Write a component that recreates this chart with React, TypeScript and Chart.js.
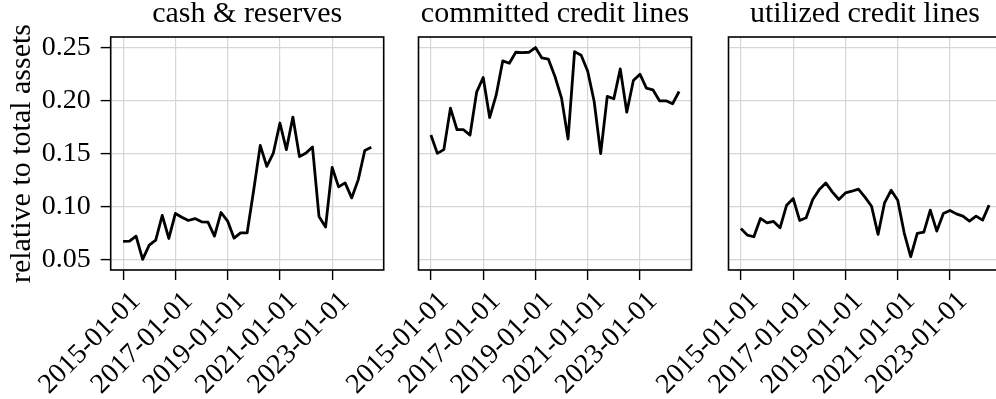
import React, { useEffect, useRef } from "react";
import { Chart, registerables } from "chart.js";
Chart.register(...registerables);

const DATES = [
  "2015-01-01", "2015-04-01", "2015-07-01", "2015-10-01",
  "2016-01-01", "2016-04-01", "2016-07-01", "2016-10-01",
  "2017-01-01", "2017-04-01", "2017-07-01", "2017-10-01",
  "2018-01-01", "2018-04-01", "2018-07-01", "2018-10-01",
  "2019-01-01", "2019-04-01", "2019-07-01", "2019-10-01",
  "2020-01-01", "2020-04-01", "2020-07-01", "2020-10-01",
  "2021-01-01", "2021-04-01", "2021-07-01", "2021-10-01",
  "2022-01-01", "2022-04-01", "2022-07-01", "2022-10-01",
  "2023-01-01", "2023-04-01", "2023-07-01", "2023-10-01",
  "2024-01-01", "2024-04-01", "2024-07-01",
];

const CASH_RESERVES = [
  0.0675, 0.0678, 0.0725, 0.0506, 0.064, 0.0688, 0.092, 0.0703,
  0.0938, 0.0903, 0.0872, 0.089, 0.0859, 0.0856, 0.0725, 0.0947,
  0.0866, 0.0706, 0.0756, 0.0756, 0.116, 0.1578, 0.138, 0.1506,
  0.1788, 0.1538, 0.1844, 0.1472, 0.1506, 0.1563, 0.091, 0.081,
  0.137, 0.1188, 0.1225, 0.1084, 0.1256, 0.153, 0.156,
];

const COMMITTED_LINES = [
  0.1675, 0.1503, 0.1538, 0.1928, 0.1725, 0.1725, 0.1675, 0.2078,
  0.2216, 0.184, 0.205, 0.2372, 0.235, 0.2453, 0.245, 0.2453,
  0.2497, 0.24, 0.2388, 0.2225, 0.2022, 0.1638, 0.2459, 0.2425,
  0.2275, 0.199, 0.15, 0.2038, 0.2016, 0.2297, 0.189, 0.2188,
  0.2247, 0.2116, 0.21, 0.1997, 0.1997, 0.1969, 0.2084,
];

const UTILIZED_LINES = [
  0.0797, 0.0734, 0.0719, 0.0891, 0.085, 0.0863, 0.0803, 0.1016,
  0.1078, 0.0872, 0.0897, 0.1069, 0.1163, 0.1225, 0.1141, 0.1069,
  0.1131, 0.1147, 0.1166, 0.1091, 0.1006, 0.0741, 0.1038, 0.1156,
  0.1063, 0.0756, 0.0531, 0.075, 0.0763, 0.0969, 0.0772, 0.0938,
  0.0966, 0.0934, 0.0913, 0.0866, 0.0913, 0.0875, 0.1016,
];

const PANEL_TITLES = ["cash & reserves", "committed credit lines", "utilized credit lines"];
const X_TICK_LABELS = ["2015-01-01", "2017-01-01", "2019-01-01", "2021-01-01", "2023-01-01"];
const Y_TICKS = [0.05, 0.1, 0.15, 0.2, 0.25];
const Y_LABEL = "relative to total assets";

const SERIES = [CASH_RESERVES, COMMITTED_LINES, UTILIZED_LINES];

const W = 1010;
const H = 399;
const PANEL_LEFT = [110.7, 418.5, 728.5];
const PANEL_W = 273;
const PLOT_TOP = 37;
const PLOT_BOTTOM = 270;
const FONT = "'Liberation Serif', 'Times New Roman', serif";
const GRID = "#d6d6d6";

const toDays = (s: string) => Date.parse(s + "T00:00:00Z") / 86400000;

const xs = DATES.map(toDays);
const xLo = Math.min(...xs);
const xHi = Math.max(...xs);
const X_MIN = xLo - 0.05 * (xHi - xLo);
const X_MAX = xHi + 0.05 * (xHi - xLo);
const allY = SERIES.flat();
const yLo = Math.min(...allY);
const yHi = Math.max(...allY);
const Y_MIN = yLo - 0.05 * (yHi - yLo);
const Y_MAX = yHi + 0.05 * (yHi - yLo);

const framePlugin = {
  id: "frame",
  afterDraw(chart: any) {
    const { ctx, chartArea: a } = chart;
    ctx.save();
    ctx.strokeStyle = "#000";
    ctx.lineWidth = 1.6;
    ctx.strokeRect(a.left, a.top, a.right - a.left, a.bottom - a.top);
    ctx.restore();
  },
};

function Panel({ k }: { k: number }) {
  const ref = useRef<HTMLCanvasElement | null>(null);
  useEffect(() => {
    if (!ref.current) return;
    const left = PANEL_LEFT[k];
    const chart = new Chart(ref.current, {
      type: "line",
      data: {
        datasets: [
          {
            data: xs.map((x, i) => ({ x, y: SERIES[k][i] })),
            borderColor: "#000",
            borderWidth: 2.8,
            pointRadius: 0,
            tension: 0,
            borderJoinStyle: "round",
            borderCapStyle: "butt",
            fill: false,
          },
        ],
      },
      plugins: [framePlugin],
      options: {
        animation: false,
        responsive: false,
        devicePixelRatio: 1,
        events: [],
        layout: {
          padding: {
            left: k === 0 ? 0 : left,
            right: W - (left + PANEL_W),
            top: 0,
            bottom: 0,
          },
        },
        plugins: {
          legend: { display: false },
          tooltip: { enabled: false },
          title: {
            display: true,
            text: PANEL_TITLES[k],
            fullSize: false,
            color: "#000",
            font: { family: FONT, size: 30, weight: "normal", lineHeight: 0.95 },
            padding: { top: 0, bottom: PLOT_TOP - 28.5 },
          },
        },
        scales: {
          x: {
            type: "linear",
            min: X_MIN,
            max: X_MAX,
            afterBuildTicks: (s: any) => {
              s.ticks = X_TICK_LABELS.map((l) => ({ value: toDays(l) }));
            },
            afterFit: (s: any) => {
              s.height = H - PLOT_BOTTOM;
            },
            ticks: {
              autoSkip: false,
              minRotation: 45,
              maxRotation: 45,
              padding: 5,
              labelOffset: 13,
              color: "#000",
              font: { family: FONT, size: 28 },
              callback: (_v: any, i: number) => X_TICK_LABELS[i],
            },
            grid: {
              color: GRID,
              lineWidth: 1.2,
              drawTicks: true,
              tickLength: 10,
              tickColor: "#000",
              tickWidth: 1.4,
            },
            border: { display: false },
          },
          y: {
            type: "linear",
            min: Y_MIN,
            max: Y_MAX,
            afterBuildTicks: (s: any) => {
              s.ticks = Y_TICKS.map((v) => ({ value: v }));
            },
            afterFit: (s: any) => {
              s.width = k === 0 ? left : 0;
            },
            ticks: {
              display: k === 0,
              padding: 10,
              color: "#000",
              font: { family: FONT, size: 28 },
              callback: (v: any) => Number(v).toFixed(2),
            },
            grid: {
              color: GRID,
              lineWidth: 1.2,
              drawTicks: k === 0,
              tickLength: 10,
              tickColor: "#000",
              tickWidth: 1.4,
            },
            border: { display: false },
            title: {
              display: k === 0,
              text: Y_LABEL,
              color: "#000",
              font: { family: FONT, size: 30, lineHeight: 1.2 },
              padding: { top: 4, bottom: 0 },
            },
          },
        },
      } as any,
    });
    return () => chart.destroy();
  }, [k]);
  return (
    <canvas
      ref={ref}
      width={W}
      height={H}
      style={{ position: "absolute", left: 0, top: 0, width: W, height: H }}
    />
  );
}

export default function App() {
  return (
    <div
      style={{
        position: "fixed",
        left: 0,
        top: 0,
        width: 996,
        height: 399,
        overflow: "hidden",
        background: "#fff",
      }}
    >
      {[0, 1, 2].map((k) => (
        <Panel key={k} k={k} />
      ))}
    </div>
  );
}
